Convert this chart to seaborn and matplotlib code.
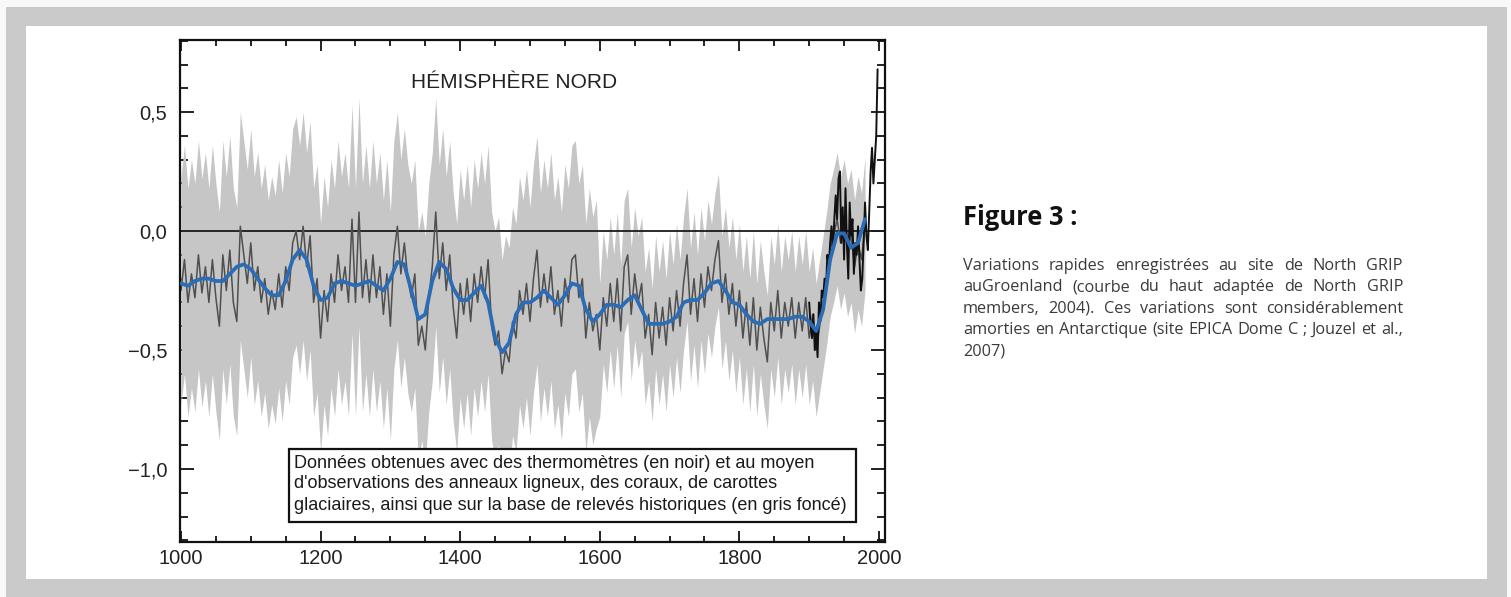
import numpy as np
import pandas as pd
import matplotlib
matplotlib.use("Agg")
import matplotlib.pyplot as plt
from matplotlib.patches import Rectangle
from matplotlib.ticker import MultipleLocator, FixedLocator
import seaborn as sns

# ---------------- data ----------------
# dark-grey proxy reconstruction, 5-year steps 1000..1980
proxy_values = [
    -0.25, -0.12, -0.30, -0.18, -0.28, -0.10, -0.26, -0.15, -0.30, -0.12, -0.28, -0.40, -0.10, -0.25, -0.08, -0.30, -0.38, 0.02, -0.10, -0.22,
    -0.05, -0.25, -0.15, -0.30, -0.20, -0.35, -0.25, -0.33, -0.18, -0.32, -0.15, -0.25, -0.05, 0.00, -0.12, 0.02, -0.15, -0.02, -0.30, -0.20,
    -0.45, -0.25, -0.38, -0.18, -0.30, -0.10, -0.25, -0.15, -0.30, 0.05, -0.30, 0.08, -0.28, -0.12, -0.30, -0.10, -0.28, -0.15, -0.35, -0.18,
    -0.40, -0.10, 0.02, -0.18, -0.05, -0.20, -0.28, -0.18, -0.48, -0.40, -0.50, -0.28, -0.15, 0.08, -0.20, -0.05, -0.25, -0.10, -0.32, -0.45,
    -0.22, -0.35, -0.20, -0.38, -0.18, -0.30, -0.15, -0.28, -0.12, -0.40, -0.48, -0.42, -0.60, -0.50, -0.55, -0.38, -0.45, -0.25, -0.35, -0.22,
    -0.38, -0.20, -0.08, -0.32, -0.18, -0.30, -0.15, -0.35, -0.25, -0.40, -0.20, -0.30, -0.12, -0.10, -0.28, -0.20, -0.45, -0.30, -0.42, -0.35,
    -0.50, -0.28, -0.40, -0.22, -0.38, -0.20, -0.42, -0.15, -0.10, -0.35, -0.18, -0.30, -0.22, -0.45, -0.35, -0.52, -0.30, -0.45, -0.32, -0.48,
    -0.28, -0.42, -0.25, -0.40, -0.22, -0.10, -0.35, -0.20, -0.38, -0.18, -0.32, -0.15, -0.25, -0.12, -0.04, -0.30, -0.18, -0.35, -0.22, -0.40,
    -0.25, -0.45, -0.30, -0.48, -0.28, -0.50, -0.32, -0.45, -0.55, -0.30, -0.42, -0.25, -0.45, -0.30, -0.40, -0.28, -0.45, -0.30, -0.42, -0.28,
    -0.45, -0.35, -0.50, -0.40, -0.30, -0.20, -0.08, -0.02, 0.05, -0.05, 0.02, -0.08, -0.02, -0.15, -0.05, -0.12, 0.03,
]
proxy_years = list(range(1000, 1981, 5))

# half-width of the grey uncertainty band, per period
band_period_start = [1000, 1600]
band_halfwidth = [0.48, 0.28]

# blue smoothed curve, 10-year steps 1000..1980
smooth_values = [
    -0.22, -0.23, -0.21, -0.20, -0.20, -0.21, -0.21, -0.18, -0.15, -0.14,
    -0.16, -0.20, -0.24, -0.27, -0.27, -0.21, -0.12, -0.08, -0.12, -0.23,
    -0.29, -0.28, -0.22, -0.21, -0.22, -0.23, -0.22, -0.21, -0.23, -0.25,
    -0.20, -0.13, -0.14, -0.25, -0.37, -0.35, -0.21, -0.13, -0.16, -0.24,
    -0.29, -0.29, -0.26, -0.23, -0.30, -0.45, -0.51, -0.47, -0.35, -0.30,
    -0.30, -0.28, -0.25, -0.28, -0.31, -0.27, -0.22, -0.23, -0.33, -0.38,
    -0.35, -0.31, -0.31, -0.32, -0.29, -0.27, -0.33, -0.39, -0.39, -0.39,
    -0.38, -0.36, -0.30, -0.29, -0.29, -0.26, -0.22, -0.21, -0.25, -0.30,
    -0.31, -0.35, -0.38, -0.39, -0.37, -0.37, -0.37, -0.37, -0.36, -0.36,
    -0.38, -0.42, -0.33, -0.12, -0.01, -0.01, -0.07, -0.05, 0.05,
]
smooth_years = list(range(1000, 1981, 10))

# black instrumental record, 2-year steps 1900..1998
instr_values = [
    -0.30, -0.40, -0.45, -0.35, -0.50, -0.42, -0.53, -0.30, -0.38, -0.25,
    -0.28, -0.20, -0.25, -0.10, -0.15, -0.05, 0.02, -0.08, 0.05, 0.15,
    0.05, 0.22, 0.25, -0.05, 0.10, -0.12, 0.18, -0.05, -0.20, 0.12,
    -0.02, 0.05, -0.18, -0.05, -0.10, 0.02, -0.12, -0.25, -0.20, -0.05,
    0.12, -0.02, -0.08, 0.08, 0.25, 0.35, 0.20, 0.30, 0.40, 0.68,
]
instr_years = list(range(1900, 1999, 2))

y_major_ticks = [-1.0, -0.5, 0.0, 0.5]
y_major_labels = ["\u22121,0", "\u22120,5", "0,0", "0,5"]
x_major_ticks = [1000, 1200, 1400, 1600, 1800, 2000]
x_major_labels = ["1000", "1200", "1400", "1600", "1800", "2000"]

title_text = "HÉMISPHÈRE NORD"
box_lines = [
    "Données obtenues avec des thermomètres (en noir) et au moyen",
    "d'observations des anneaux ligneux, des coraux, de carottes",
    "glaciaires, ainsi que sur la base de relevés historiques (en gris foncé)",
]
caption_title = "Figure 3 :"
caption_lines = [
    "Variations rapides enregistrées au site de North GRIP",
    "auGroenland (courbe du haut adaptée de North GRIP",
    "members, 2004). Ces variations sont considérablement",
    "amorties en Antarctique (site EPICA Dome C ; Jouzel et al.,",
    "2007)",
]

# ---------------- figure ----------------
sns.set_theme(style="ticks")
plt.rcParams["font.family"] = ["Liberation Sans", "DejaVu Sans"]

W, H = 1511, 597
fig = plt.figure(figsize=(W / 100, H / 100), dpi=100)
fig.patch.set_facecolor("#f8f8f8")
fig.add_artist(Rectangle((6 / W, 0), (1507 - 6) / W, 1 - 7 / H, transform=fig.transFigure,
                         facecolor="#cacaca", edgecolor="none", zorder=-10))
fig.add_artist(Rectangle((26 / W, 1 - 579 / H), (1487 - 26) / W, (579 - 26) / H, transform=fig.transFigure,
                         facecolor="#ffffff", edgecolor="none", zorder=-9))

ax = fig.add_axes([180 / W, 1 - 542 / H, 705 / W, 502 / H])
ax.set_facecolor("white")

df_proxy = pd.DataFrame({"year": proxy_years, "value": proxy_values})
hw = np.zeros(len(df_proxy))
for start, w in zip(band_period_start, band_halfwidth):
    hw[df_proxy["year"].to_numpy() >= start] = w
ax.fill_between(df_proxy["year"], df_proxy["value"] - hw, df_proxy["value"] + hw,
                color="#c6c6c6", linewidth=0, zorder=1)
ax.axhline(0, color="#1a1a1a", linewidth=1.3, zorder=1.5)

sns.lineplot(data=df_proxy, x="year", y="value", ax=ax, color="#4f4f4f",
             linewidth=1.1, estimator=None, zorder=2)
df_instr = pd.DataFrame({"year": instr_years, "value": instr_values})
sns.lineplot(data=df_instr, x="year", y="value", ax=ax, color="#111111",
             linewidth=1.4, estimator=None, zorder=3)
df_smooth = pd.DataFrame({"year": smooth_years, "value": smooth_values})
sns.lineplot(data=df_smooth, x="year", y="value", ax=ax, color="#2b6cb6",
             linewidth=2.7, estimator=None, zorder=4)

ax.set_xlim(998.6, 2008.6)
ax.set_ylim(-1.307, 0.803)
ax.set_xlabel("")
ax.set_ylabel("")

ax.xaxis.set_major_locator(FixedLocator(x_major_ticks))
ax.set_xticklabels(x_major_labels)
ax.xaxis.set_minor_locator(MultipleLocator(50))
ax.yaxis.set_major_locator(FixedLocator(y_major_ticks))
ax.set_yticklabels(y_major_labels)
ax.yaxis.set_minor_locator(MultipleLocator(0.1))

ax.tick_params(axis="both", which="both", direction="in", top=True, right=True,
               colors="#111111", labelcolor="#222222", labelsize=14.5, width=1.3)
ax.tick_params(axis="x", which="major", length=8, pad=5)
ax.tick_params(axis="x", which="minor", length=4)
ax.tick_params(axis="y", which="major", length=10, pad=9)
ax.tick_params(axis="y", which="minor", length=6)
for s in ax.spines.values():
    s.set_visible(True)
    s.set_linewidth(1.6)
    s.set_color("#111111")

ax.text((514 - 180) / 705, (542 - 82) / 502, title_text, transform=ax.transAxes, ha="center", va="center",
        fontsize=15, color="#222222")

x0, x1, yb, yt = (289 - 180) / 705, (856 - 180) / 705, (542 - 522) / 502, (542 - 449) / 502
ax.add_patch(Rectangle((x0, yb), x1 - x0, yt - yb, transform=ax.transAxes, facecolor="white",
                       edgecolor="#111111", linewidth=1.6, zorder=6))
for i, line in enumerate(box_lines):
    ax.text((294 - 180) / 705, (542 - (463 + 21 * i)) / 502, line, transform=ax.transAxes,
            ha="left", va="center", fontsize=13.0, color="#1a1a1a", zorder=7)

# caption on the right
fig.text(963 / W, 1 - 217 / H, caption_title, ha="left", va="center", fontsize=18.4,
         fontweight="bold", family=["Open Sans", "DejaVu Sans"], color="#111111")

renderer = fig.canvas.get_renderer()
cx0, cx1 = 963, 1403
cap_family = ["Open Sans", "DejaVu Sans"]
# pick the body size so that the widest line fits the column with normal spacing
probe_sizes = []
for line in caption_lines[:-1]:
    t = fig.text(0, 0, line, fontsize=10, family=cap_family)
    probe_sizes.append(10 * (cx1 - cx0 - 4) / t.get_window_extent(renderer).width)
    t.remove()
cap_size = min(probe_sizes)

for i, line in enumerate(caption_lines):
    y = 1 - (266 + 21.3 * i) / H
    kw = dict(ha="left", va="center", fontsize=cap_size, family=cap_family, color="#3a3a3a")
    words = line.split(" ")
    if i == len(caption_lines) - 1 or len(words) == 1:
        fig.text(cx0 / W, y, line, **kw)
        continue
    texts = [fig.text(0, y, w, **kw) for w in words]
    widths = [t.get_window_extent(renderer).width for t in texts]
    gap = ((cx1 - cx0) - sum(widths)) / (len(words) - 1)
    x = cx0
    for t, w in zip(texts, widths):
        t.set_x(x / W)
        x += w + gap

fig.savefig("out.png", dpi=100, facecolor=fig.get_facecolor())
